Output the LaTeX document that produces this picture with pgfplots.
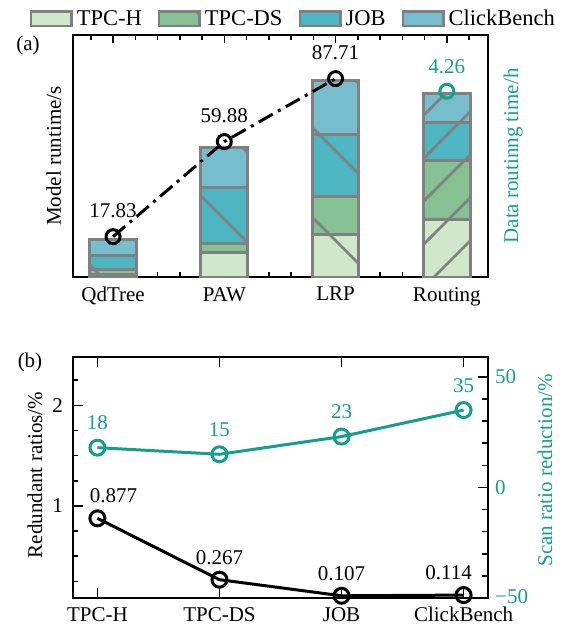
\documentclass[border=0pt]{standalone}
\usepackage{fontspec}
\setmainfont{Liberation Serif}
\usepackage{pgfplots}
\pgfplotsset{compat=1.18}
\usetikzlibrary{patterns.meta}

\definecolor{ctpch}{RGB}{208,232,202}
\definecolor{ctpcds}{RGB}{134,193,148}
\definecolor{cjob}{RGB}{78,182,195}
\definecolor{cclick}{RGB}{118,190,205}
\definecolor{edgegray}{RGB}{128,128,128}
\definecolor{tealc}{RGB}{22,158,138}

\tikzdeclarepattern{
  name=sparseNW,
  type=uncolored,
  bounding box={(-3pt,-3pt) and (93pt,93pt)},
  tile size={(90pt,90pt)},
  code={\draw[line width=2.6pt] (-3pt,93pt) -- (93pt,-3pt);}
}
\tikzdeclarepattern{
  name=sparseNE,
  type=uncolored,
  bounding box={(-3pt,-3pt) and (46pt,46pt)},
  tile size={(43pt,43pt)},
  code={\draw[line width=2.6pt] (-3pt,-3pt) -- (46pt,46pt);}
}

\pgfplotsset{
  topaxis/.style={
    scale only axis, width=415pt, height=242pt,
    at={(0pt,0pt)}, anchor=south west,
    xmin=-0.36, xmax=3.37, ymin=0, ymax=107,
  },
  botaxis/.style={
    scale only axis, width=415pt, height=241pt,
    at={(0pt,-80pt)}, anchor=north west,
    xmin=-0.2, xmax=3.2,
  },
  bardraw/.style={draw=edgegray, line width=3pt},
  lbl/.style={nodes near coords, point meta=explicit symbolic,
    every node near coord/.append style={anchor=south, inner sep=0pt, #1}},
}

\begin{document}
\begin{tikzpicture}[font=\fontsize{21}{25}\selectfont]
\useasboundingbox (-73pt,-348pt) rectangle (491pt,277pt);

% ---------- top panel: bars QdTree, PAW, LRP ----------
\begin{axis}[topaxis, ybar stacked, bar width=0.42,
  axis line style={line width=1.6pt},
  xtick={0,1,2,3}, xticklabels={QdTree,PAW,LRP,Routing},
  minor xtick={-0.2,0.2,0.4,0.6,0.8,1.2,1.4,1.6,1.8,2.2,2.4,2.6,2.8,3.2},
  ytick=\empty, minor ytick={10,20,...,100}, ytick pos=left,
  major tick length=8pt, minor tick length=5pt,
  tick style={black, line width=1.5pt},
  xticklabel style={inner sep=0pt, anchor=north, yshift=-10pt},
  ylabel={Model runtime/s},
  ylabel style={at={(axis description cs:-0.02,0.5)}, anchor=south},
  legend columns=4,
  legend cell align=left,
  legend style={draw=none, fill=none, font=\fontsize{22.5}{26}\selectfont,
    at={(axis description cs:0.531,1.068)}, anchor=center,
    /tikz/every odd column/.append style={column sep=2pt},
    /tikz/every even column/.append style={column sep=14pt}},
  legend image code/.code={\draw[#1, line width=2.5pt] (1.25pt,-7.25pt) rectangle (41.75pt,7.25pt);},
]
\addplot[fill=ctpch, bardraw, postaction={pattern=sparseNW, pattern color=edgegray}]
  coordinates {(0,1.3) (1,11) (2,19)};
\addplot[fill=ctpcds, bardraw, postaction={pattern=sparseNW, pattern color=edgegray}]
  coordinates {(0,1.8) (1,3.7) (2,16.5)};
\addplot[fill=cjob, bardraw, postaction={pattern=sparseNW, pattern color=edgegray}]
  coordinates {(0,6.3) (1,25) (2,27.5)};
\addplot[fill=cclick, bardraw, postaction={pattern=sparseNW, pattern color=edgegray}]
  coordinates {(0,7.0) (1,17.4) (2,24)};
\legend{TPC-H,TPC-DS,JOB,ClickBench}
\end{axis}

% ---------- top panel: Routing bar ----------
\begin{axis}[topaxis, hide axis, ybar stacked, bar width=0.42]
\addplot[fill=ctpch, bardraw, postaction={pattern=sparseNE, pattern color=edgegray}]
  coordinates {(3,25.5)};
\addplot[fill=ctpcds, bardraw, postaction={pattern=sparseNE, pattern color=edgegray}]
  coordinates {(3,26)};
\addplot[fill=cjob, bardraw, postaction={pattern=sparseNE, pattern color=edgegray}]
  coordinates {(3,17)};
\addplot[fill=cclick, bardraw, postaction={pattern=sparseNE, pattern color=edgegray}]
  coordinates {(3,12.8)};
\end{axis}

% ---------- top panel: model runtime line ----------
\begin{axis}[topaxis, hide axis]
\addplot[black, line width=3pt, dash pattern=on 16pt off 6pt on 3pt off 6pt,
  mark=o, mark size=7pt, mark options={solid, fill=white, line width=3pt},
  lbl={yshift=17pt, black}]
  coordinates {(0,17.83) [17.83] (1,59.88) [59.88] (2,87.71) [87.71]};
\end{axis}

% ---------- top panel: right axis (routing time) ----------
\begin{axis}[topaxis, ymin=0, ymax=5.55,
  axis x line=none, axis y line*=right, ytick=\empty,
  axis line style={line width=1.6pt},
  ylabel={Data routinng time/h},
  ylabel style={tealc, at={(axis description cs:1.029,0.5)}, anchor=north}]
\addplot[tealc, only marks, mark=o, mark size=7pt, mark options={line width=3pt},
  lbl={yshift=16pt, tealc}]
  coordinates {(3,4.26) [4.26]};
\end{axis}

% ---------- bottom panel: redundant ratios ----------
\begin{axis}[botaxis, ymin=0.085, ymax=2.48,
  axis line style={line width=1.6pt},
  xtick={0,1,2,3}, xticklabels={TPC-H,TPC-DS,JOB,ClickBench},
  ytick={1,2}, yticklabels={1,2},
  minor ytick={0.25,0.5,0.75,1.25,1.5,1.75,2.25}, ytick pos=left,
  major tick length=10pt, minor tick length=5.5pt,
  tick style={black, line width=1.5pt},
  xticklabel style={inner sep=0pt, anchor=north, yshift=-9pt},
  yticklabel style={inner sep=0pt, anchor=east, xshift=-10pt},
  ylabel={Redundant ratios/\%},
  ylabel style={at={(axis description cs:-0.065,0.51)}, anchor=south}]
\addplot[black, line width=3pt, mark=o, mark size=7.5pt, mark options={fill=white}]
  coordinates {(0,0.877) (1,0.267) (2,0.107) (3,0.114)};
\addplot[draw=none, mark=none, forget plot, lbl={yshift=15pt, xshift=16pt, black}]
  coordinates {(0,0.877) [0.877]};
\addplot[draw=none, mark=none, forget plot, lbl={yshift=15pt, black}]
  coordinates {(1,0.267) [0.267] (2,0.107) [0.107]};
\addplot[draw=none, mark=none, forget plot, lbl={yshift=15pt, xshift=-15pt, black}]
  coordinates {(3,0.114) [0.114]};
\end{axis}

% ---------- bottom panel: scan ratio reduction ----------
\begin{axis}[botaxis, ymin=-50, ymax=59,
  axis x line=none, axis y line*=right, tick align=inside,
  axis line style={line width=1.6pt},
  ytick={-50,0,50}, yticklabels={\raisebox{2.5pt}{−50},0,50},
  minor ytick={-40,-30,-20,-10,10,20,30,40},
  major tick length=10pt, minor tick length=5.5pt,
  tick style={black, line width=1.5pt},
  yticklabel style={tealc, inner sep=0pt, anchor=west, xshift=7pt},
  ylabel={Scan ratio reduction/\%},
  ylabel style={tealc, at={(axis description cs:1.111,0.53)}, anchor=north}]
\addplot[tealc, line width=3pt, mark=o, mark size=7.5pt, mark options={fill=white},
  lbl={yshift=16pt, tealc}]
  coordinates {(0,18) [18] (1,15) [15] (2,23) [23] (3,35) [35]};
\end{axis}

\node at (-45pt,232pt) {(a)};
\node at (-43pt,-85pt) {(b)};
\end{tikzpicture}
\end{document}
